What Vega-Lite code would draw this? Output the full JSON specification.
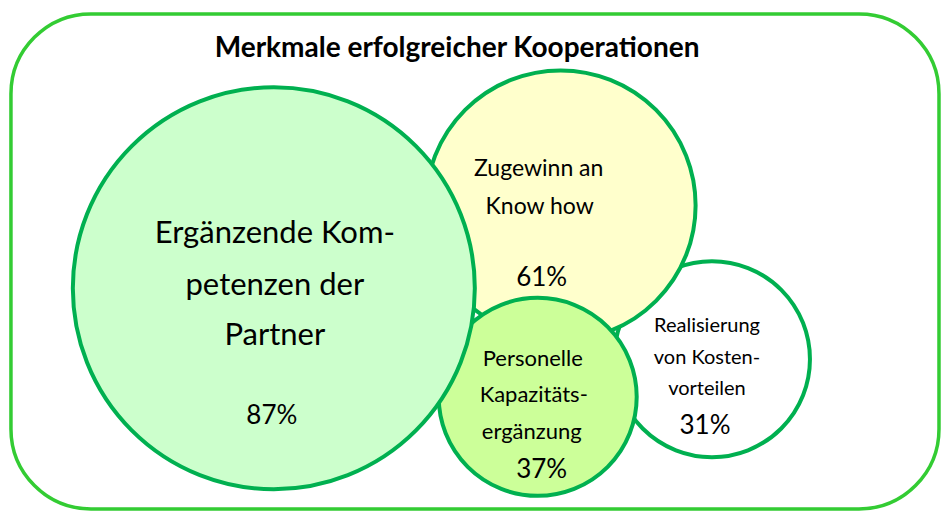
{
  "$schema": "https://vega.github.io/schema/vega-lite/v6.json",
  "width": 941,
  "height": 511,
  "padding": 0,
  "autosize": {"type": "fit", "contains": "padding"},
  "background": "#ffffff",
  "view": {"stroke": null},
  "datasets": {
    "frame": [{"x": 11, "x2": 943, "y": 14, "y2": 513}],
    "circles": [
      {"name": "Realisierung von Kostenvorteilen", "value": 31, "cx": 715, "cy": 362, "r": 98},
      {"name": "Zugewinn an Know how", "value": 61, "cx": 563, "cy": 207, "r": 135},
      {"name": "Personelle Kapazitätsergänzung", "value": 37, "cx": 540, "cy": 400, "r": 99},
      {"name": "Ergänzende Kompetenzen der Partner", "value": 87, "cx": 275, "cy": 290.5, "r": 201}
    ],
    "labels": [
      {"t": "Ergänzende Kom-", "x": 276, "y": 245, "cls": "big"},
      {"t": "petenzen der", "x": 276, "y": 297, "cls": "big"},
      {"t": "Partner", "x": 276, "y": 348, "cls": "big"},
      {"t": "87%", "x": 273, "y": 427, "cls": "pct"},
      {"t": "Zugewinn an", "x": 541, "y": 177, "cls": "mid"},
      {"t": "Know how", "x": 542, "y": 216, "cls": "mid"},
      {"t": "61%", "x": 544, "y": 288, "cls": "pct"},
      {"t": "Personelle", "x": 535, "y": 369, "cls": "small"},
      {"t": "Kapazitäts-", "x": 536, "y": 405, "cls": "small"},
      {"t": "ergänzung", "x": 534, "y": 442, "cls": "small"},
      {"t": "37%", "x": 544, "y": 482, "cls": "pct"},
      {"t": "Realisierung", "x": 710, "y": 335, "cls": "xs"},
      {"t": "von Kosten-", "x": 710, "y": 367, "cls": "xs"},
      {"t": "vorteilen", "x": 710, "y": 398, "cls": "xs"},
      {"t": "31%", "x": 708, "y": 437, "cls": "pct"}
    ],
    "title": [{"t": "Merkmale erfolgreicher Kooperationen", "x": 459, "y": 57}]
  },
  "encoding": {
    "x": {"field": "x", "type": "quantitative", "scale": {"domain": [0, 941], "nice": false, "zero": false}, "axis": null},
    "y": {"field": "y", "type": "quantitative", "scale": {"domain": [0, 511], "nice": false, "zero": false, "reverse": true}, "axis": null}
  },
  "layer": [
    {
      "data": {"name": "frame"},
      "mark": {"type": "rect", "fill": null, "stroke": "#33cc33", "strokeWidth": 3.5, "cornerRadius": 80, "clip": false},
      "encoding": {
        "x2": {"field": "x2"},
        "y2": {"field": "y2"}
      }
    },
    {
      "data": {"name": "circles"},
      "mark": {"type": "point", "shape": "circle", "filled": false, "stroke": "#00b050", "strokeWidth": 4, "opacity": 1, "fillOpacity": 1},
      "encoding": {
        "x": {"field": "cx", "type": "quantitative"},
        "y": {"field": "cy", "type": "quantitative"},
        "size": {"field": "r", "type": "quantitative", "scale": {"type": "pow", "exponent": 2, "domain": [0, 200], "range": [0, 160000]}, "legend": null},
        "fill": {"field": "name", "type": "nominal", "scale": {"domain": ["Realisierung von Kostenvorteilen", "Zugewinn an Know how", "Personelle Kapazitätsergänzung", "Ergänzende Kompetenzen der Partner"], "range": ["#ffffff", "#ffffcc", "#ccff99", "#ccffcc"]}, "legend": null}
      }
    },
    {
      "data": {"name": "labels"},
      "transform": [{"filter": "datum.cls == 'big'"}],
      "mark": {"type": "text", "font": "Lato", "fontSize": 31, "align": "center", "baseline": "alphabetic", "color": "#000000"},
      "encoding": {"text": {"field": "t"}}
    },
    {
      "data": {"name": "labels"},
      "transform": [{"filter": "datum.cls == 'pct'"}],
      "mark": {"type": "text", "font": "Lato", "fontSize": 26, "align": "center", "baseline": "alphabetic", "color": "#000000"},
      "encoding": {"text": {"field": "t"}}
    },
    {
      "data": {"name": "labels"},
      "transform": [{"filter": "datum.cls == 'mid'"}],
      "mark": {"type": "text", "font": "Lato", "fontSize": 23, "align": "center", "baseline": "alphabetic", "color": "#000000"},
      "encoding": {"text": {"field": "t"}}
    },
    {
      "data": {"name": "labels"},
      "transform": [{"filter": "datum.cls == 'small'"}],
      "mark": {"type": "text", "font": "Lato", "fontSize": 22, "align": "center", "baseline": "alphabetic", "color": "#000000"},
      "encoding": {"text": {"field": "t"}}
    },
    {
      "data": {"name": "labels"},
      "transform": [{"filter": "datum.cls == 'xs'"}],
      "mark": {"type": "text", "font": "Lato", "fontSize": 20, "align": "center", "baseline": "alphabetic", "color": "#000000"},
      "encoding": {"text": {"field": "t"}}
    },
    {
      "data": {"name": "title"},
      "mark": {"type": "text", "font": "Lato", "fontWeight": "bold", "fontSize": 28, "align": "center", "baseline": "alphabetic", "color": "#000000"},
      "encoding": {"text": {"field": "t"}}
    }
  ]
}
